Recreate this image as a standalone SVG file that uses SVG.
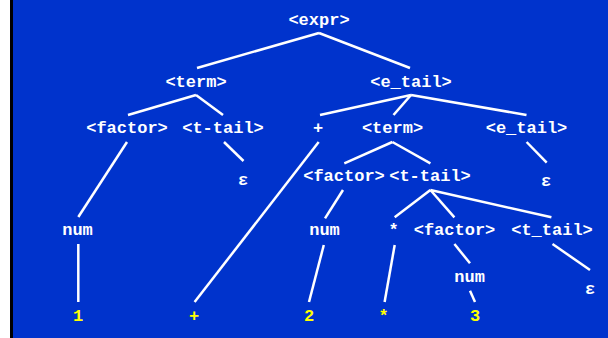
<svg xmlns="http://www.w3.org/2000/svg" width="608" height="338" viewBox="0 0 608 338">
<style>
text{font-family:"Liberation Mono","Courier New",monospace;font-weight:bold;font-size:17px;text-anchor:middle}
.w{fill:#ffffff}
.y{fill:#ffff00}
#connectors line{stroke:#ffffff;stroke-width:2.5;stroke-linecap:butt}
</style>
<rect x="0" y="0" width="608" height="338" fill="#ffffff"/>
<rect x="10" y="0" width="3" height="338" fill="#000000"/>
<rect x="13" y="0" width="595" height="338" fill="#0033cc"/>
<g id="connectors">
<line x1="319" y1="33" x2="197" y2="68"/>
<line x1="319" y1="33" x2="410" y2="68"/>
<line x1="196" y1="95" x2="128" y2="115"/>
<line x1="196" y1="95" x2="223" y2="115"/>
<line x1="411" y1="95" x2="320" y2="115"/>
<line x1="411" y1="95" x2="393.5" y2="115"/>
<line x1="411" y1="95" x2="526.5" y2="115"/>
<line x1="127" y1="142" x2="78.3" y2="217"/>
<line x1="224" y1="142" x2="243.5" y2="161"/>
<line x1="318.7" y1="142" x2="194.6" y2="302"/>
<line x1="392.4" y1="142" x2="344.3" y2="163.3"/>
<line x1="392.4" y1="142" x2="430.4" y2="163.3"/>
<line x1="526.6" y1="142" x2="546.7" y2="162.7"/>
<line x1="343" y1="190" x2="325" y2="218.3"/>
<line x1="430.4" y1="190" x2="394.7" y2="217.3"/>
<line x1="430.4" y1="190" x2="454.4" y2="217.3"/>
<line x1="430.4" y1="190" x2="551.4" y2="217.3"/>
<line x1="78.3" y1="244" x2="78.3" y2="302"/>
<line x1="323.8" y1="245" x2="309" y2="302"/>
<line x1="394.7" y1="245" x2="384.6" y2="302"/>
<line x1="454.4" y1="244" x2="470" y2="263.3"/>
<line x1="552.5" y1="244" x2="590" y2="270"/>
<line x1="470" y1="290.7" x2="475" y2="302"/>
</g>
<g id="n-expr"><text class="w" x="319" y="25">&lt;expr&gt;</text></g>
<g id="n-term1"><text class="w" x="196" y="87">&lt;term&gt;</text></g>
<g id="n-etail1"><text class="w" x="411" y="87">&lt;e_tail&gt;</text></g>
<g id="n-factor1"><text class="w" x="127" y="133">&lt;factor&gt;</text></g>
<g id="n-ttail1"><text class="w" x="223" y="133">&lt;t-tail&gt;</text></g>
<g id="n-plus1"><text class="w" x="318" y="133">+</text></g>
<g id="n-term2"><text class="w" x="392.5" y="133">&lt;term&gt;</text></g>
<g id="n-etail2"><text class="w" x="526.5" y="133">&lt;e_tail&gt;</text></g>
<g id="n-eps1"><text class="w" x="243" y="185">ε</text></g>
<g id="n-eps2"><text class="w" x="546" y="186">ε</text></g>
<g id="n-factor2"><text class="w" x="344" y="181">&lt;factor&gt;</text></g>
<g id="n-ttail2"><text class="w" x="430" y="181">&lt;t-tail&gt;</text></g>
<g id="n-num1"><text class="w" x="77.5" y="235">num</text></g>
<g id="n-num2"><text class="w" x="324.5" y="235">num</text></g>
<g id="n-star1"><text class="w" x="393.5" y="235">*</text></g>
<g id="n-factor3"><text class="w" x="454.5" y="235">&lt;factor&gt;</text></g>
<g id="n-ttail3"><text class="w" x="552" y="235">&lt;t_tail&gt;</text></g>
<g id="n-num3"><text class="w" x="469.6" y="282">num</text></g>
<g id="n-eps3"><text class="w" x="590" y="294">ε</text></g>
<g id="t-1"><text class="y" x="78" y="321">1</text></g>
<g id="t-plus"><text class="y" x="194" y="321">+</text></g>
<g id="t-2"><text class="y" x="309" y="321">2</text></g>
<g id="t-star"><text class="y" x="383.5" y="321">*</text></g>
<g id="t-3"><text class="y" x="475" y="321">3</text></g>
</svg>
